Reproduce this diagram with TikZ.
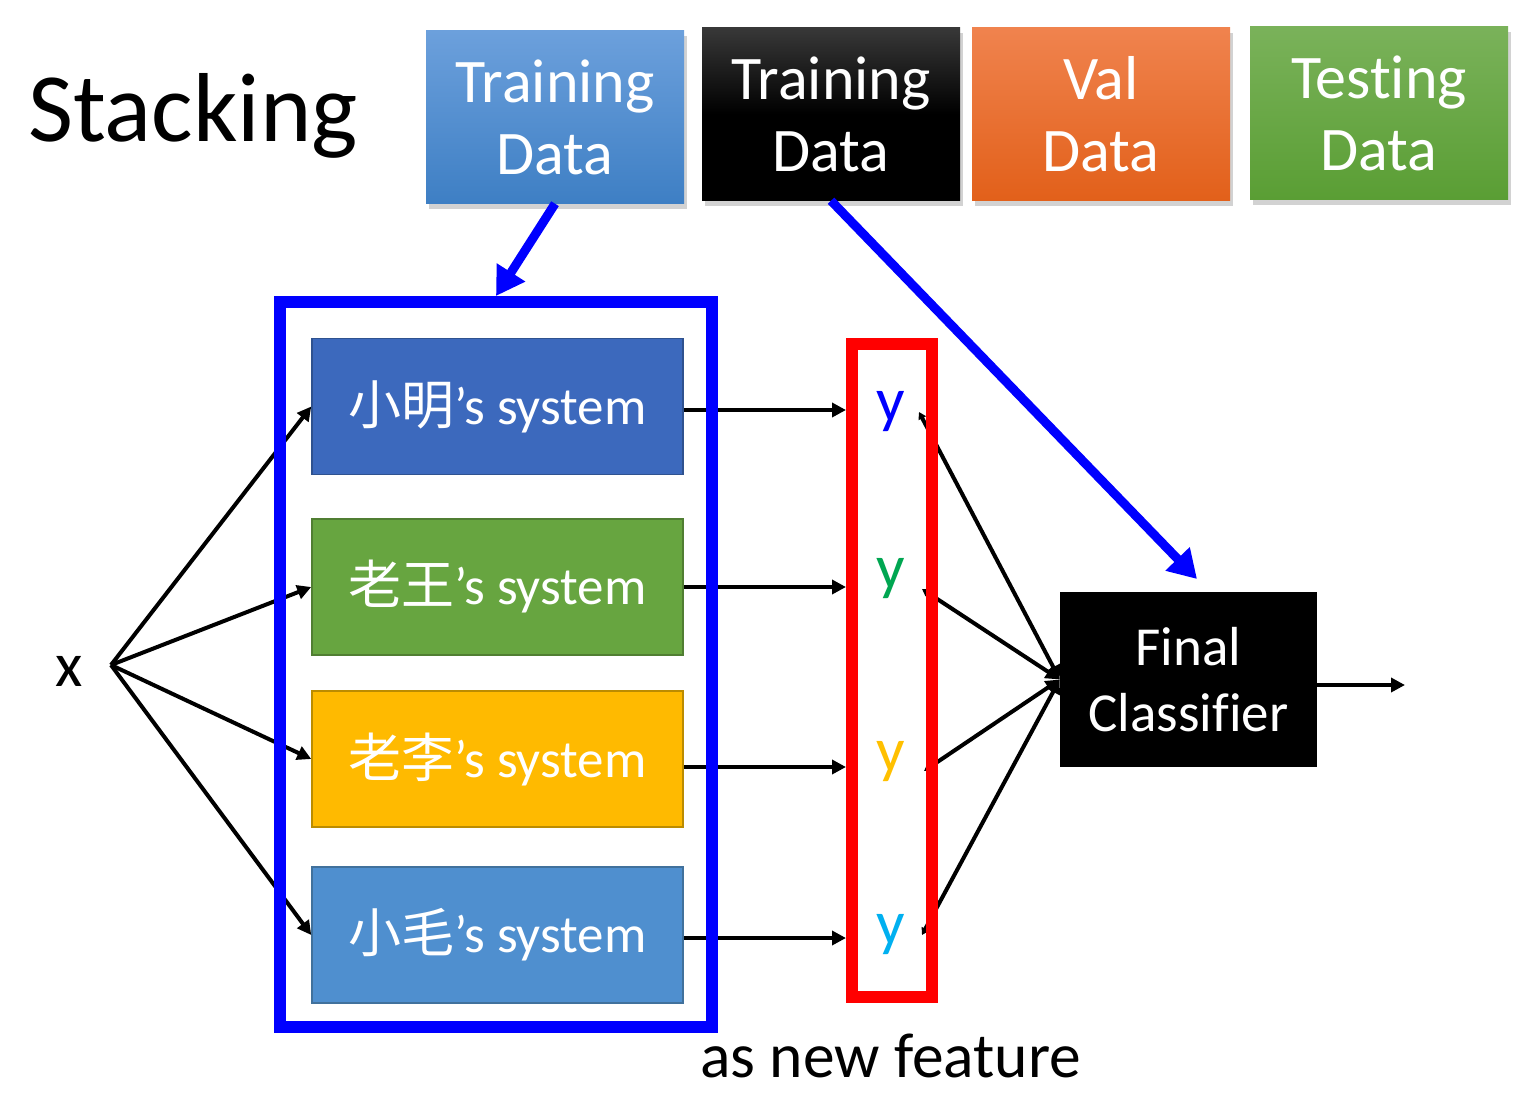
\documentclass[tikz,border=0pt]{standalone}
\usepackage{fontspec}
\setmainfont{Carlito}[Ligatures=NoCommon]
\newfontfamily\cjk{Noto Sans CJK TC}
\usetikzlibrary{arrows.meta,shadows}
\definecolor{tdblueT}{HTML}{6CA0DC}
\definecolor{tdblueB}{HTML}{3E7FC4}
\definecolor{valT}{HTML}{F0834E}
\definecolor{valB}{HTML}{E2601A}
\definecolor{testT}{HTML}{7AB25A}
\definecolor{testB}{HTML}{5A9E34}
\definecolor{sysA}{HTML}{3C69BD}
\definecolor{sysAd}{HTML}{2F528F}
\definecolor{sysB}{HTML}{67A540}
\definecolor{sysBd}{HTML}{507E32}
\definecolor{sysC}{HTML}{FFBA00}
\definecolor{sysCd}{HTML}{BC8C00}
\definecolor{sysD}{HTML}{4F8FCF}
\definecolor{sysDd}{HTML}{41719C}
\definecolor{yA}{HTML}{0000FF}
\definecolor{yB}{HTML}{00A651}
\definecolor{yC}{HTML}{FFC000}
\definecolor{yD}{HTML}{00B0F0}
\definecolor{pureblue}{HTML}{0000FF}
\definecolor{purered}{HTML}{FF0000}
\tikzset{
  topbox/.style={minimum width=258pt, minimum height=173pt, inner sep=0pt, align=center,
    text=white, font=\fontsize{62}{72}\selectfont,
    drop shadow={shadow xshift=3pt, shadow yshift=-5pt, opacity=0.35}},
  sysbox/.style={minimum width=371pt, minimum height=136pt, inner sep=0pt, line width=1.5pt,
    text=white, font=\fontsize{53}{60}\selectfont},
  ylab/.style={anchor=base, font=\fontsize{63}{70}\selectfont, inner sep=0pt},
  arr/.style={line width=4pt, -{Triangle[length=14pt,width=14pt]}},
  fcarr/.style={line width=4pt, {Triangle[length=7pt,width=8pt]}-{Triangle[length=14pt,width=14pt]}},
  bigarr/.style={line width=9pt, draw=pureblue, -{Triangle[length=28pt,width=32pt]}},
  frame/.style={inner sep=0pt, line width=12pt}
}
\begin{document}
\begin{tikzpicture}[x=1pt,y=-1pt]
\useasboundingbox[fill=white] (0,0) rectangle (1526,1106);

% title
\node[anchor=base west, inner sep=0pt, font=\fontsize{98}{110}\selectfont] (title) at (28,141) {Stacking};

% top data boxes
\node[topbox, top color=tdblueT, bottom color=tdblueB] (td1) at (555,117) {Training\\Data};
\node[topbox, top color=black!78, bottom color=black, middle color=black] (td2) at (831,114) {Training\\Data};
\node[topbox, top color=valT, bottom color=valB] (val) at (1101,114) {Val\\Data};
\node[topbox, top color=testT, bottom color=testB] (test) at (1379,113) {Testing\\Data};

% systems
\node[sysbox, fill=sysA, draw=sysAd] (sys1) at (497.5,406.5) {{\cjk 小明}’s system};
\node[sysbox, fill=sysB, draw=sysBd] (sys2) at (497.5,587) {{\cjk 老王}’s system};
\node[sysbox, fill=sysC, draw=sysCd] (sys3) at (497.5,759) {{\cjk 老李}’s system};
\node[sysbox, fill=sysD, draw=sysDd] (sys4) at (497.5,935) {{\cjk 小毛}’s system};

% final classifier
\node[fill=black, minimum width=257pt, minimum height=175pt, inner sep=0pt, align=center,
  text=white, font=\fontsize{55}{66}\selectfont] (fc) at (1188.5,679.5) {Final\\Classifier};

% labels
\node[anchor=base west, inner sep=0pt, font=\fontsize{63}{70}\selectfont] (x) at (55,686) {x};
\node[ylab, text=yA] (y1) at (891,421) {y};
\node[ylab, text=yB] (y2) at (891,588) {y};
\node[ylab, text=yC] (y3) at (891,771) {y};
\node[ylab, text=yD] (y4) at (891,944) {y};
\node[anchor=base west, inner sep=0pt, font=\fontsize{63.5}{70}\selectfont] (feat) at (700,1077) {as new feature};

% connector end points
\coordinate (xo) at (111,665);
\coordinate (s1) at (919,412);
\coordinate (s2) at (922,589);
\coordinate (s3) at (924,771);
\coordinate (s4) at (922,935);
\coordinate (out) at (1405,685);
\coordinate (tip2) at (1197,579);

% black arrows from x
\draw[arr] (xo) -- (sys1.west);
\draw[arr] (xo) -- (sys2.west);
\draw[arr] (xo) -- (sys3.west);
\draw[arr] (xo) -- (sys4.west);

% red frame anchors
\path node[frame, minimum width=79.5pt, minimum height=653pt] (red) at (891.75,670.5) {};

% system outputs to y
\draw[arr] (sys1.east |- 0,410) -- (red.west |- 0,410);
\draw[arr] (sys2.east) -- (red.west |- sys2.east);
\draw[arr] (sys3.east |- 0,767) -- (red.west |- 0,767);
\draw[arr] (sys4.east |- 0,938) -- (red.west |- 0,938);

% y to final classifier
\draw[fcarr] (s1) -- (fc.west);
\draw[fcarr] (s2) -- (fc.west);
\draw[fcarr] (s3) -- (fc.west);
\draw[fcarr] (s4) -- (fc.west);
\draw[arr] (fc.east |- out) -- (out);

% frames
\node[frame, draw=pureblue, minimum width=432pt, minimum height=725pt] (blueframe) at (496,664.5) {};
\node[frame, draw=purered, minimum width=79.5pt, minimum height=653pt] (redframe) at (891.75,670.5) {};

% big blue arrows
\draw[bigarr] (td1.south) -- (blueframe.north);
\draw[bigarr] (td2.south) -- (tip2);
\end{tikzpicture}
\end{document}
